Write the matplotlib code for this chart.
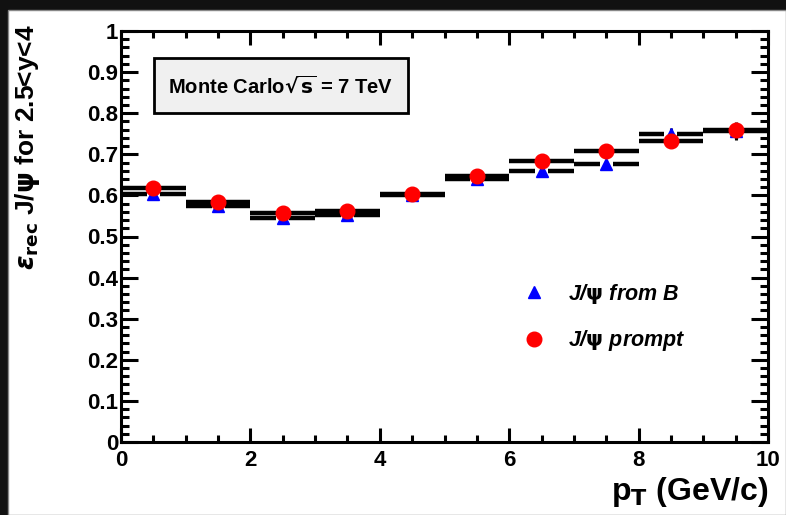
import numpy as np
import matplotlib
matplotlib.use("Agg")
import matplotlib.pyplot as plt
from matplotlib.lines import Line2D
from matplotlib.patches import Rectangle
from matplotlib.ticker import MultipleLocator, FixedLocator

plt.rcParams['font.family'] = ['Liberation Sans', 'DejaVu Sans']
plt.rcParams['font.weight'] = 'bold'
plt.rcParams['mathtext.fontset'] = 'dejavusans'

# pT bins (GeV/c)
pt_centers = [0.5, 1.5, 2.5, 3.5, 4.5, 5.5, 6.5, 7.5, 8.5, 9.5]
pt_halfwidth = [0.5] * 10

# reconstruction efficiency, 2.5<y<4
eff_from_b = [0.604, 0.574, 0.545, 0.552, 0.600, 0.640, 0.659, 0.677, 0.749, 0.756]
err_from_b = [0.004, 0.004, 0.004, 0.004, 0.005, 0.005, 0.006, 0.008, 0.016, 0.020]
eff_prompt = [0.617, 0.584, 0.556, 0.562, 0.603, 0.647, 0.683, 0.709, 0.732, 0.758]
err_prompt = [0.003, 0.003, 0.003, 0.003, 0.003, 0.004, 0.005, 0.006, 0.010, 0.020]

y_ticks = [0, 0.1, 0.2, 0.3, 0.4, 0.5, 0.6, 0.7, 0.8, 0.9, 1]
y_tick_labels = ['0', '0.1', '0.2', '0.3', '0.4', '0.5', '0.6', '0.7', '0.8', '0.9', '1']
x_ticks = [0, 2, 4, 6, 8, 10]
x_tick_labels = ['0', '2', '4', '6', '8', '10']

W, H = 786, 515
fig = plt.figure(figsize=(W / 100, H / 100), dpi=100)
fig.patch.set_facecolor('#111111')
# white canvas inside the dark window frame
fig.patches.append(Rectangle((8 / W, 0), 1 - 8 / W, 1 - 10 / H, transform=fig.transFigure,
                             facecolor='white', edgecolor='#888888', lw=1.0, zorder=-10))

ax = fig.add_axes([121 / W, (H - 442) / H, (768 - 121) / W, (442 - 31) / H])
ax.set_facecolor('white')


def draw_points(x, y, xerr, yerr, marker, color, ms, z):
    x = np.asarray(x)
    y = np.asarray(y)
    xerr = np.asarray(xerr)
    gap = 0.1  # bar stops short of the marker, like ROOT does
    ax.hlines(y, x - xerr, x - gap, color='black', lw=3.2, zorder=z)
    ax.hlines(y, x + gap, x + xerr, color='black', lw=3.2, zorder=z)
    ax.errorbar(x, y, yerr=yerr, fmt=marker, color=color, ecolor='black',
                elinewidth=2.2, capsize=0, ms=ms, mec=color, zorder=z + 1)


draw_points(pt_centers, eff_from_b, pt_halfwidth, err_from_b, '^', 'blue', 9, 2)
draw_points(pt_centers, eff_prompt, pt_halfwidth, err_prompt, 'o', 'red', 10.5, 4)

ax.set_xlim(0, 10)
ax.set_ylim(0, 1)
ax.xaxis.set_major_locator(FixedLocator(x_ticks))
ax.set_xticklabels(x_tick_labels)
ax.xaxis.set_minor_locator(MultipleLocator(0.5))
ax.yaxis.set_major_locator(FixedLocator(y_ticks))
ax.set_yticklabels(y_tick_labels)
ax.yaxis.set_minor_locator(MultipleLocator(0.02))

for s in ax.spines.values():
    s.set_linewidth(2.2)
ax.tick_params(which='both', direction='in', top=True, right=True, width=2.2, labelsize=16)
ax.tick_params(axis='y', which='major', length=12, pad=2)
ax.tick_params(axis='y', which='minor', length=6)
ax.tick_params(axis='x', which='major', length=10, pad=6)
ax.tick_params(axis='x', which='minor', length=5)
ax.tick_params(axis='y', which='both', labelright=False)

# text box
ax.add_patch(Rectangle((0.051, 0.8005), 0.3925, 0.1335, transform=ax.transAxes,
                       facecolor='#f0f0f0', edgecolor='black', lw=2, zorder=6))
ax.text(0.247, 0.867, r'Monte Carlo$\sqrt{\mathbf{s}}$ = 7 TeV', transform=ax.transAxes,
        ha='center', va='center', fontsize=14.5, fontweight='bold', zorder=7)

handles = [Line2D([], [], ls='none', marker='^', color='blue', ms=9),
           Line2D([], [], ls='none', marker='o', color='red', ms=10.5)]
labels = [r'J/$\mathrm{\psi}$ from B', r'J/$\mathrm{\psi}$ prompt']
leg = ax.legend(handles, labels, loc='upper left', bbox_to_anchor=(0.618, 0.39),
                frameon=False, borderpad=0, borderaxespad=0, handlelength=1.2,
                handletextpad=1.0, labelspacing=1.05,
                prop={'size': 15.5, 'weight': 'bold', 'style': 'italic'})

fig.text(28 / W, 1 - 24 / H, r'$\epsilon_{\mathbf{rec}}$ J/$\mathrm{\psi}$ for 2.5<y<4',
         rotation=90, rotation_mode='anchor', ha='right', va='center',
         fontsize=19, fontweight='bold')
fig.text(768 / W, 1 - 492 / H, r'p$_{\mathbf{T}}$ (GeV/c)', ha='right', va='center',
         fontsize=23, fontweight='bold')

fig.savefig('out.png', dpi=100, facecolor=fig.get_facecolor())
